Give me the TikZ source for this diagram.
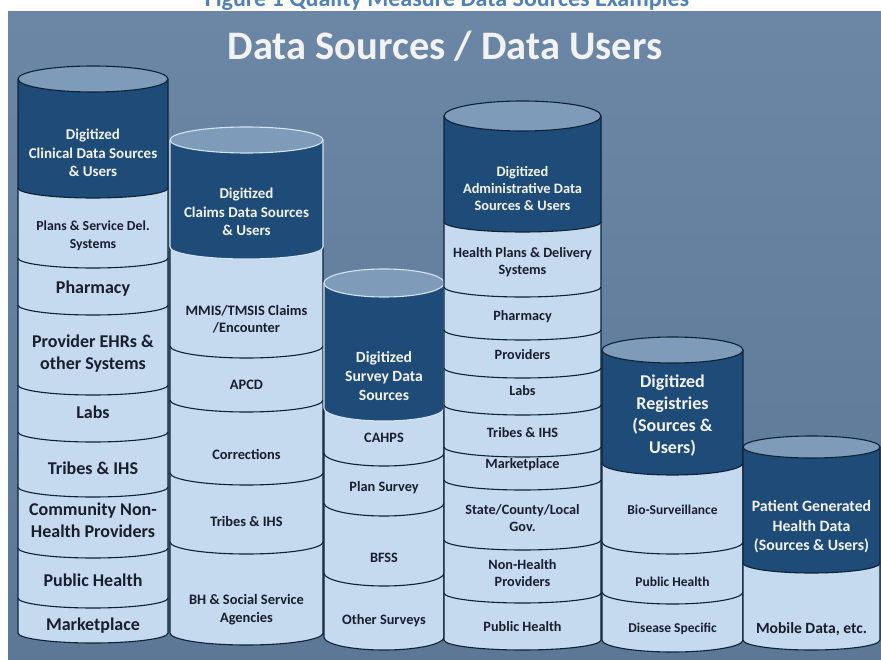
\documentclass[tikz,border=0pt]{standalone}
\usepackage{fontspec}
\setmainfont{Carlito}
\definecolor{panelTop}{HTML}{6B87A5}
\definecolor{panelBot}{HTML}{5D7796}
\definecolor{darkband}{HTML}{1E4B78}
\definecolor{lightband}{HTML}{C5D9EF}
\definecolor{topcap}{HTML}{7E9BBA}
\definecolor{edge}{HTML}{0E2236}
\definecolor{ledge}{HTML}{D6E3F0}
\definecolor{lighttext}{HTML}{F2F2F2}
\definecolor{darktext}{HTML}{1A1D2C}
\definecolor{capblue}{HTML}{4F81BD}
\newcommand{\cband}[6]{%
  \pgfmathsetmacro{\crx}{(#2-#1)/2}%
  \filldraw[#6] (#1,#3) -- (#1,#4) arc[start angle=180,end angle=360,x radius=\crx pt,y radius=#5pt] -- (#2,#3);%
}
\newcommand{\ctop}[5]{%
  \pgfmathsetmacro{\crx}{(#2-#1)/2}%
  \pgfmathsetmacro{\ccx}{(#1+#2)/2}%
  \filldraw[#5] (\ccx,#3) ellipse[x radius=\crx pt,y radius=#4pt];%
}
\begin{document}
\begin{tikzpicture}[x=1pt,y=-1pt,
  lt/.style={fill=lightband, draw=edge, line width=1.1pt},
  dk/.style={fill=darkband, draw=edge, line width=1.1pt},
  dkl/.style={fill=darkband, draw=ledge, line width=1.1pt},
  tp/.style={fill=topcap, draw=edge, line width=1.1pt},
  tpl/.style={fill=topcap, draw=ledge, line width=1.1pt},
  fs/.style 2 args={font=\fontsize{#1}{#2}\selectfont\bfseries},
  dtxt/.style={text=lighttext, align=center, inner sep=0pt},
  ltxt/.style={text=darktext, align=center, inner sep=0pt}]
\useasboundingbox (0,0) rectangle (881,660);
\fill[white] (0,0) rectangle (881,660);
\shade[top color=panelTop, bottom color=panelBot] (8,12) rectangle (881,660);
\node[anchor=base, text=capblue, fs={24}{28}, inner sep=0pt] (caption) at (447,7) {Figure 1 Quality Measure Data Sources Examples};
\node[text=lighttext, fs={40.5}{48}, inner sep=0pt] (title) at (445,46) {Data Sources / Data Users};

% Cylinder 1
\cband{18}{168}{598}{633}{10}{lt}
\cband{18}{168}{548}{598}{10}{lt}
\cband{18}{168}{487}{548}{10}{lt}
\cband{18}{168}{432}{487}{10}{lt}
\cband{18}{168}{385}{432}{10}{lt}
\cband{18}{168}{305}{385}{10}{lt}
\cband{18}{168}{258}{305}{10}{lt}
\cband{18}{168}{188}{258}{10}{lt}
\cband{18}{168}{79}{188}{10}{dk}
\ctop{18}{168}{79}{13}{tp}

% Cylinder 2
\cband{170}{323}{542}{633}{12}{lt}
\cband{170}{323}{473}{542}{12}{lt}
\cband{170}{323}{400}{473}{12}{lt}
\cband{170}{323}{346}{400}{12}{lt}
\cband{170}{323}{247}{346}{12}{lt}
\cband{170}{323}{140}{247}{12}{dkl}
\ctop{170}{323}{140}{13}{tpl}

% Cylinder 3
\cband{324}{444}{573}{637}{13}{lt}
\cband{324}{444}{503}{573}{13}{lt}
\cband{324}{444}{453}{503}{13}{lt}
\cband{324}{444}{408}{453}{13}{lt}
\cband{324}{444}{283}{408}{13}{dkl}
\ctop{324}{444}{283}{14}{tpl}

% Cylinder 4
\cband{444}{601}{593}{640}{10}{lt}
\cband{444}{601}{540}{593}{10}{lt}
\cband{444}{601}{480}{540}{10}{lt}
\cband{444}{601}{447}{480}{10}{lt}
\cband{444}{601}{405}{447}{10}{lt}
\cband{444}{601}{368}{405}{10}{lt}
\cband{444}{601}{330}{368}{10}{lt}
\cband{444}{601}{287}{330}{10}{lt}
\cband{444}{601}{222}{287}{10}{lt}
\cband{444}{601}{116}{222}{10}{dk}
\ctop{444}{601}{116}{15}{tp}

% Cylinder 5
\cband{602}{743}{592}{640}{12}{lt}
\cband{602}{743}{542}{592}{12}{lt}
\cband{602}{743}{463}{542}{12}{lt}
\cband{602}{743}{350}{463}{12}{dk}
\ctop{602}{743}{350}{13}{tp}

% Cylinder 6
\cband{743}{880}{563}{640}{10}{lt}
\cband{743}{880}{447}{563}{10}{dk}
\ctop{743}{880}{447}{11}{tp}

% Texts cylinder 1
\node[dtxt, fs={15}{18.5}] (c1d) at (93,153) {Digitized\\Clinical Data Sources\\\& Users};
\node[ltxt, fs={13.8}{18}] (c1a) at (93,236) {Plans \& Service Del.\\Systems};
\node[ltxt, fs={18}{22}] (c1b) at (93,289) {Pharmacy};
\node[ltxt, fs={18}{22}] (c1c) at (93,354) {Provider EHRs \&\\other Systems};
\node[ltxt, fs={18}{22}] (c1e) at (93,412) {Labs};
\node[ltxt, fs={18}{22}] (c1f) at (93,468) {Tribes \& IHS};
\node[ltxt, fs={18}{22}] (c1g) at (93,520) {Community Non-\\Health Providers};
\node[ltxt, fs={18}{22}] (c1h) at (93,580) {Public Health};
\node[ltxt, fs={18}{22}] (c1i) at (93,626) {Marketplace};

% Texts cylinder 2
\node[dtxt, fs={15}{18.5}] (c2d) at (246.5,212) {Digitized\\Claims Data Sources\\\& Users};
\node[ltxt, fs={14.4}{17}] (c2a) at (246.5,319.5) {MMIS/TMSIS Claims\\/Encounter};
\node[ltxt, fs={14.4}{17}] (c2b) at (246.5,385) {APCD};
\node[ltxt, fs={14.4}{17}] (c2c) at (246.5,454) {Corrections};
\node[ltxt, fs={14.4}{17}] (c2e) at (246.5,521) {Tribes \& IHS};
\node[ltxt, fs={14.4}{18}] (c2f) at (246.5,610) {BH \& Social Service\\Agencies};

% Texts cylinder 3
\node[dtxt, fs={15.6}{19}] (c3d) at (384,376) {Digitized\\Survey Data\\Sources};
\node[ltxt, fs={14.3}{17}] (c3a) at (384,438) {CAHPS};
\node[ltxt, fs={14.3}{17}] (c3b) at (384,488) {Plan Survey};
\node[ltxt, fs={14.3}{17}] (c3c) at (384,558) {BFSS};
\node[ltxt, fs={14.3}{17}] (c3e) at (384,621) {Other Surveys};

% Texts cylinder 4
\node[dtxt, fs={14.4}{17}] (c4d) at (522.5,188) {Digitized\\Administrative Data\\Sources \& Users};
\node[ltxt, fs={14.2}{17}] (c4a) at (522.5,262.5) {Health Plans \& Delivery\\Systems};
\node[ltxt, fs={14.2}{17}] (c4b) at (522.5,317) {Pharmacy};
\node[ltxt, fs={14.2}{17}] (c4c) at (522.5,355) {Providers};
\node[ltxt, fs={14.2}{17}] (c4e) at (522.5,391) {Labs};
\node[ltxt, fs={14.2}{17}] (c4f) at (522.5,433) {Tribes \& IHS};
\node[ltxt, fs={14.2}{17}] (c4g) at (522.5,465) {Marketplace};
\node[ltxt, fs={14.2}{17}] (c4h) at (522.5,518.5) {State/County/Local\\Gov.};
\node[ltxt, fs={14.2}{17}] (c4i) at (522.5,573.5) {Non-Health\\Providers};
\node[ltxt, fs={14.2}{17}] (c4j) at (522.5,627) {Public Health};

% Texts cylinder 5
\node[dtxt, fs={18}{22}] (c5d) at (672.5,416) {Digitized\\Registries\\(Sources \&\\Users)};
\node[ltxt, fs={13.5}{15}] (c5a) at (672.5,510) {Bio-Surveillance};
\node[ltxt, fs={13.5}{15}] (c5b) at (672.5,582) {Public Health};
\node[ltxt, fs={13.5}{15}] (c5c) at (672.5,629) {Disease Specific};

% Texts cylinder 6
\node[dtxt, fs={15.8}{19.5}] (c6d) at (811.5,527) {Patient Generated\\Health Data\\(Sources \& Users)};
\node[ltxt, fs={15.6}{18}] (c6a) at (811.5,629) {Mobile Data, etc.};
\end{tikzpicture}
\end{document}
